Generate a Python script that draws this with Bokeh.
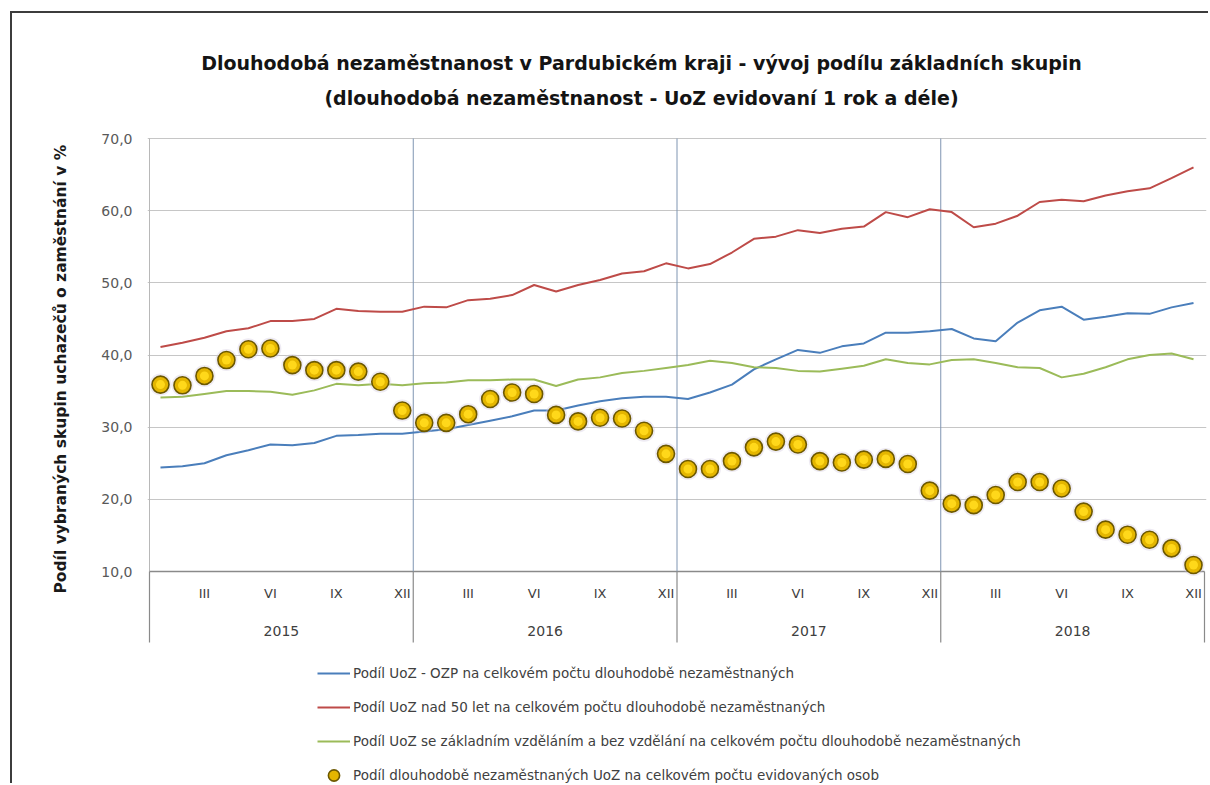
import numpy as np
from bokeh.plotting import figure
from bokeh.models import Range1d, FixedTicker, Legend, LegendItem, Title
from bokeh.core.properties import value
from bokeh.embed import file_html
from bokeh.resources import INLINE

# ---------------- data ----------------
years = ["2015", "2016", "2017", "2018"]
month_labels = ["I", "II", "III", "IV", "V", "VI", "VII", "VIII", "IX", "X", "XI", "XII"]
shown_months = ["III", "VI", "IX", "XII"]
y_ticks = [10, 20, 30, 40, 50, 60, 70]
y_tick_labels = ["10,0", "20,0", "30,0", "40,0", "50,0", "60,0", "70,0"]

ozp = [24.4, 24.6, 25.0, 26.1, 26.8, 27.6, 27.5, 27.8, 28.8, 28.9, 29.1, 29.1,
       29.4, 29.7, 30.3, 30.9, 31.5, 32.3, 32.3, 33.0, 33.6, 34.0, 34.2, 34.2,
       33.9, 34.8, 35.9, 38.0, 39.4, 40.7, 40.3, 41.2, 41.6, 43.1, 43.1, 43.3,
       43.6, 42.3, 41.9, 44.5, 46.2, 46.7, 44.9, 45.3, 45.8, 45.7, 46.6, 47.2]
over50 = [41.1, 41.7, 42.4, 43.3, 43.7, 44.7, 44.7, 45.0, 46.4, 46.1, 46.0, 46.0,
          46.7, 46.6, 47.6, 47.8, 48.3, 49.7, 48.8, 49.7, 50.4, 51.3, 51.6, 52.7,
          52.0, 52.6, 54.2, 56.1, 56.4, 57.3, 56.9, 57.5, 57.8, 59.8, 59.1, 60.2,
          59.8, 57.7, 58.2, 59.3, 61.2, 61.5, 61.3, 62.1, 62.7, 63.1, 64.5, 66.0]
basic = [34.1, 34.2, 34.6, 35.0, 35.0, 34.9, 34.5, 35.1, 36.0, 35.8, 36.0, 35.8,
         36.1, 36.2, 36.5, 36.5, 36.6, 36.6, 35.7, 36.6, 36.9, 37.5, 37.8, 38.2,
         38.6, 39.2, 38.9, 38.3, 38.2, 37.8, 37.7, 38.1, 38.5, 39.4, 38.9, 38.7,
         39.3, 39.4, 38.9, 38.3, 38.2, 36.9, 37.4, 38.3, 39.4, 40.0, 40.2, 39.4]
longterm = [35.9, 35.8, 37.1, 39.3, 40.8, 40.9, 38.6, 37.9, 37.9, 37.7, 36.3, 32.3,
            30.6, 30.6, 31.8, 33.9, 34.8, 34.6, 31.7, 30.8, 31.3, 31.2, 29.5, 26.3,
            24.2, 24.2, 25.3, 27.2, 28.0, 27.6, 25.3, 25.1, 25.5, 25.6, 24.9, 21.2,
            19.4, 19.2, 20.6, 22.4, 22.4, 21.5, 18.3, 15.8, 15.1, 14.4, 13.2, 10.9]

series_names = [
    "Podíl UoZ - OZP na celkovém počtu dlouhodobě nezaměstnaných",
    "Podíl UoZ nad 50 let na celkovém počtu dlouhodobě nezaměstnaných",
    "Podíl UoZ se základním vzděláním a bez vzdělání na celkovém počtu dlouhodobě nezaměstnaných",
    "Podíl dlouhodobě nezaměstnaných UoZ na celkovém počtu evidovaných osob",
]
title_lines = ["Dlouhodobá nezaměstnanost v Pardubickém kraji - vývoj podílu základních skupin",
               "(dlouhodobá nezaměstnanost - UoZ evidovaní 1 rok a déle)"]
y_label = "Podíl vybraných skupin uchazečů o zaměstnání v %"

# ---------------- layout ----------------
FONT = "DejaVu Sans"
OX, OY = 12, 13                 # page position of the canvas (css margins)
W, H = 1210 - OX, 785 - OY
PX_Y = 433 / 60.0               # px per percentage point
PX_X = 1055 / 48.0              # px per month
ML, MR = 135, 4
x0 = -(149 - (OX + ML)) / PX_X
x1 = 48 + ((1210 - MR) - 1204) / PX_X
y_end = 70 + (138 - OY) / PX_Y
y_start = 70 - (785 - 138) / PX_Y


def yd(py):  # page y -> data y
    return 70 - (py - 138) / PX_Y


n = len(ozp)
x = np.arange(n) + 0.5

p = figure(width=W, height=H, x_range=Range1d(x0, x1), y_range=Range1d(y_start, y_end),
           output_backend="svg", toolbar_location=None, x_axis_location=None,
           min_border_left=ML, min_border_right=MR, min_border_top=0, min_border_bottom=0)
p.styles = {"margin-left": f"{OX}px", "margin-top": f"{OY}px",
            "box-shadow": "-2px -2px 0px 0px #3c3c3c"}
p.outline_line_color = None
p.background_fill_color = "white"
p.border_fill_color = "white"
p.xgrid.visible = False
p.ygrid.ticker = FixedTicker(ticks=y_ticks[1:])
p.ygrid.grid_line_color = "#c6c6c6"
p.ygrid.grid_line_width = 1

ax = p.yaxis[0]
ax.ticker = FixedTicker(ticks=y_ticks)
ax.major_label_overrides = dict(zip(y_ticks, y_tick_labels))
ax.axis_line_color = None
ax.major_tick_line_color = None
ax.minor_tick_line_color = None
ax.major_tick_out = 0
ax.major_tick_in = 0
ax.major_label_standoff = 15
ax.major_label_text_font = FONT
ax.major_label_text_font_size = "14px"
ax.major_label_text_color = "#595959"

# rotated axis title in the left panel, starting at page y=592
p.add_layout(Title(text=y_label, align="left", offset=785 - 593, vertical_align="bottom",
                   standoff=58, text_font=FONT, text_font_size="15.5px", text_font_style="bold",
                   text_color="#1a1a1a"), "left")

# frame lines
p.segment(x0=[0], y0=[70], x1=[0], y1=[y_ticks[0]], line_color="#b8b8b8", line_width=1)
p.segment(x0=[0], y0=[y_ticks[0]], x1=[n], y1=[y_ticks[0]], line_color="#8a8a8a", line_width=1.4)
yb = [12 * (i + 1) for i in range(len(years) - 1)]
p.segment(x0=yb, y0=[70] * len(yb), x1=yb, y1=[y_ticks[0]] * len(yb), line_color="#7f95b2", line_width=1)
ys = [12 * i for i in range(len(years) + 1)]
p.segment(x0=ys, y0=[y_ticks[0]] * len(ys), x1=ys, y1=[yd(642)] * len(ys), line_color="#8a8a8a", line_width=1.2)

# category labels
mx, mt = [], []
for yi, yr in enumerate(years):
    for m in shown_months:
        mx.append(12 * yi + month_labels.index(m) + 0.5)
        mt.append(m)
p.text(x=mx, y=[yd(593)] * len(mx), text=mt, text_align="center", text_baseline="middle",
       text_font=value(FONT), text_font_size="13px", text_color="#404040")
p.text(x=[12 * i + 6 for i in range(len(years))], y=[yd(630)] * len(years), text=years,
       text_align="center", text_baseline="middle", text_font=value(FONT), text_font_size="14px",
       text_color="#404040")

# chart title (inside the frame area above the grid)
p.text(x=[(641 - 149) / PX_X] * 2, y=[yd(62), yd(97)], text=title_lines, text_align="center",
       text_baseline="middle", text_font=value(FONT), text_font_size="19px",
       text_font_style="bold", text_color="#141414")

# series
r_ozp = p.line(x, ozp, line_color="#4a7ebb", line_width=2)
r_50 = p.line(x, over50, line_color="#be4b48", line_width=2)
r_basic = p.line(x, basic, line_color="#9bbb59", line_width=2)
p.scatter(x, longterm, size=22, fill_color="#cfc6dd", fill_alpha=0.35, line_color=None)
r_dot = p.scatter(x, longterm, size=17, fill_color="#e4b600", line_color="#6c5800", line_width=1.6)
p.scatter(x, longterm, size=9, fill_color="#ffd81a", line_color=None)

legend = Legend(items=[LegendItem(label=series_names[0], renderers=[r_ozp]),
                       LegendItem(label=series_names[1], renderers=[r_50]),
                       LegendItem(label=series_names[2], renderers=[r_basic]),
                       LegendItem(label=series_names[3], renderers=[r_dot])],
                location=(317 - (OX + ML), -4), orientation="vertical",
                glyph_width=33, glyph_height=28, label_height=28, spacing=6, padding=0, margin=0,
                label_standoff=3, border_line_color=None, background_fill_alpha=0,
                label_text_font=FONT, label_text_font_size="13.5px", label_text_color="#404040")
p.add_layout(legend, "center")

open("out.html", "w").write(file_html(p, INLINE))
